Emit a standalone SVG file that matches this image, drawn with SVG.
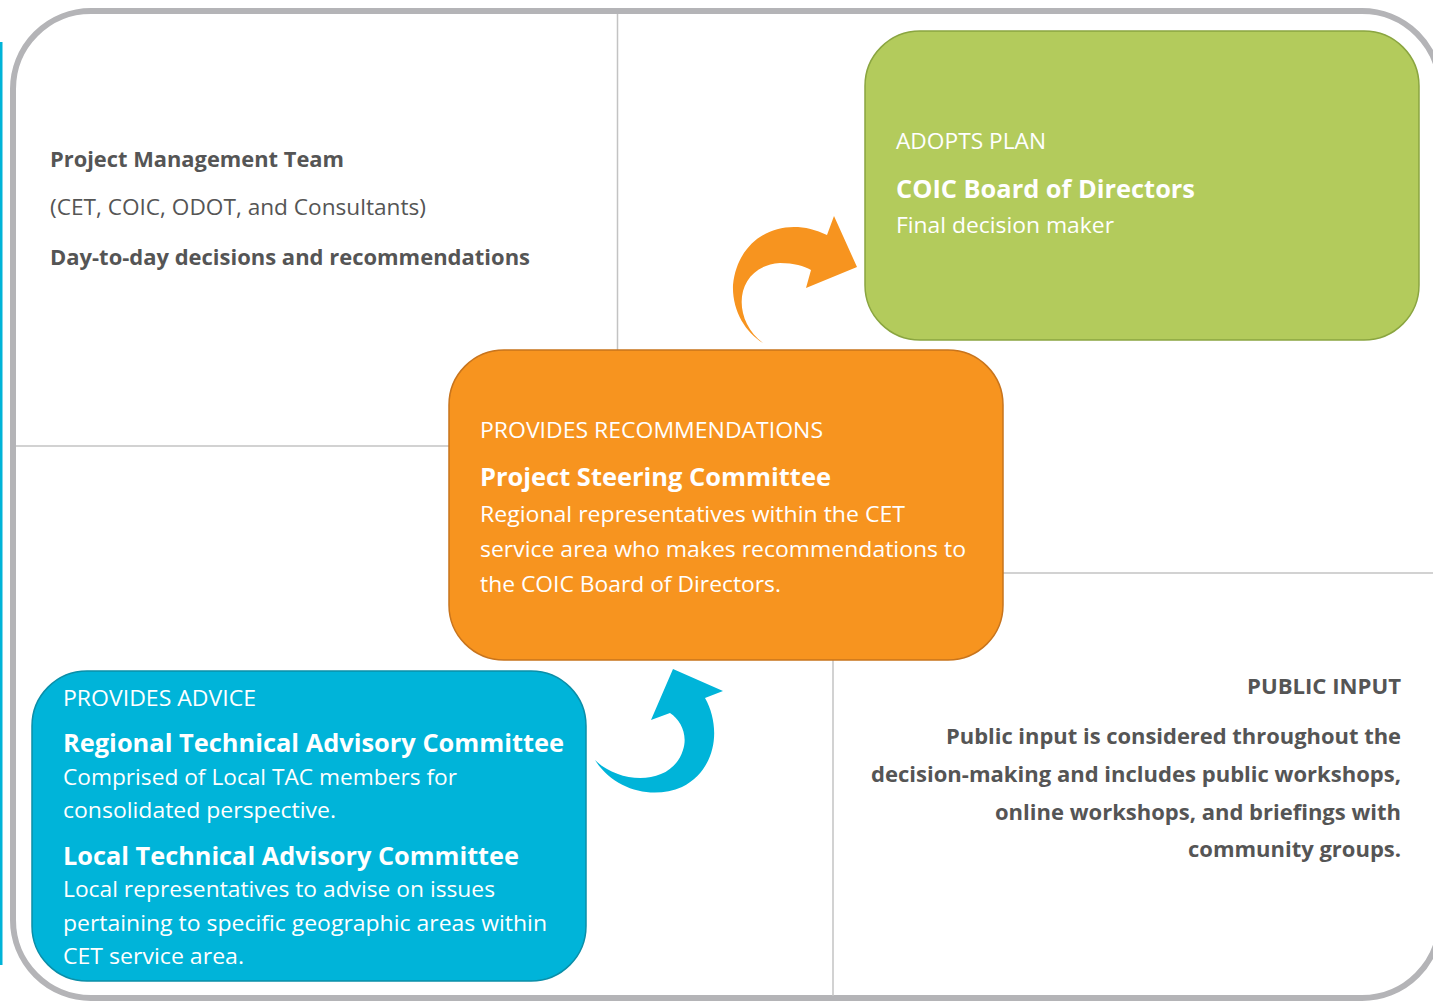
<svg xmlns="http://www.w3.org/2000/svg" width="1433" height="1003" viewBox="0 0 1433 1003">
<style>
.grid{stroke:#c3c3c3;stroke-width:1.5;fill:none}
.w{fill:#ffffff;font-family:"Open Sans","Liberation Sans",sans-serif;font-size:21px}
.wb{fill:#ffffff;font-family:"Open Sans","Liberation Sans",sans-serif;font-size:25px;font-weight:bold}
.d{fill:#555555;font-family:"Open Sans","Liberation Sans",sans-serif;font-size:21px}
.db{fill:#555555;font-family:"Open Sans","Liberation Sans",sans-serif;font-size:21px;font-weight:bold}
</style>
<rect width="1433" height="1003" fill="#ffffff"/>
<rect x="0" y="42" width="2.5" height="923" fill="#00b4d8"/>
<rect x="13" y="11" width="1427" height="987" rx="78" ry="78" fill="none" stroke="#b4b4b7" stroke-width="6"/>
<g id="grid">
<line class="grid" x1="617.5" y1="14" x2="617.5" y2="352"/>
<line class="grid" x1="16" y1="446" x2="452" y2="446"/>
<line class="grid" x1="1000" y1="573" x2="1433" y2="573"/>
<line class="grid" x1="833" y1="658" x2="833" y2="996"/>
</g>
<g id="pmt">
<text class="db" x="50" y="167" textLength="294" lengthAdjust="spacingAndGlyphs">Project Management Team</text>
<text class="d" x="50" y="215" textLength="376" lengthAdjust="spacingAndGlyphs">(CET, COIC, ODOT, and Consultants)</text>
<text class="db" x="50" y="265" textLength="480" lengthAdjust="spacingAndGlyphs">Day-to-day decisions and recommendations</text>
</g>
<g id="board">
<rect x="865" y="31" width="554" height="309" rx="55" ry="55" fill="#b3cb5c" stroke="#8aa540" stroke-width="1.5"/>
<text class="w" x="896" y="149" textLength="150" lengthAdjust="spacingAndGlyphs">ADOPTS PLAN</text>
<text class="wb" x="896" y="198" textLength="299" lengthAdjust="spacingAndGlyphs">COIC Board of Directors</text>
<text class="w" x="896" y="233" textLength="218" lengthAdjust="spacingAndGlyphs">Final decision maker</text>
</g>
<g id="psc">
<rect x="449" y="350" width="554" height="310" rx="55" ry="55" fill="#f7941f" stroke="#c8741c" stroke-width="1.5"/>
<text class="w" x="480" y="438" textLength="343" lengthAdjust="spacingAndGlyphs">PROVIDES RECOMMENDATIONS</text>
<text class="wb" x="480" y="486" textLength="351" lengthAdjust="spacingAndGlyphs">Project Steering Committee</text>
<text class="w" x="480" y="522" textLength="425" lengthAdjust="spacingAndGlyphs">Regional representatives within the CET</text>
<text class="w" x="480" y="557" textLength="486" lengthAdjust="spacingAndGlyphs">service area who makes recommendations to</text>
<text class="w" x="480" y="592" textLength="301" lengthAdjust="spacingAndGlyphs">the COIC Board of Directors.</text>
</g>
<g id="tac">
<rect x="32" y="671" width="554" height="310" rx="55" ry="55" fill="#00b4d9" stroke="#0a8ea8" stroke-width="1.5"/>
<text class="w" x="63" y="706" textLength="193" lengthAdjust="spacingAndGlyphs">PROVIDES ADVICE</text>
<text class="wb" x="63" y="752" textLength="501" lengthAdjust="spacingAndGlyphs">Regional Technical Advisory Committee</text>
<text class="w" x="63" y="785" textLength="394" lengthAdjust="spacingAndGlyphs">Comprised of Local TAC members for</text>
<text class="w" x="63" y="818" textLength="273" lengthAdjust="spacingAndGlyphs">consolidated perspective.</text>
<text class="wb" x="63" y="865" textLength="456" lengthAdjust="spacingAndGlyphs">Local Technical Advisory Committee</text>
<text class="w" x="63" y="897" textLength="432" lengthAdjust="spacingAndGlyphs">Local representatives to advise on issues</text>
<text class="w" x="63" y="931" textLength="484" lengthAdjust="spacingAndGlyphs">pertaining to specific geographic areas within</text>
<text class="w" x="63" y="964" textLength="181" lengthAdjust="spacingAndGlyphs">CET service area.</text>
</g>
<g id="public" text-anchor="end">
<text class="db" x="1401" y="694" textLength="154" lengthAdjust="spacingAndGlyphs">PUBLIC INPUT</text>
<text class="db" x="1401" y="744" textLength="455" lengthAdjust="spacingAndGlyphs">Public input is considered throughout the</text>
<text class="db" x="1401" y="782" textLength="530" lengthAdjust="spacingAndGlyphs">decision-making and includes public workshops,</text>
<text class="db" x="1401" y="820" textLength="406" lengthAdjust="spacingAndGlyphs">online workshops, and briefings with</text>
<text class="db" x="1401" y="857" textLength="213" lengthAdjust="spacingAndGlyphs">community groups.</text>
</g>
<g id="connectors">
<path d="M763 343 C730 318 735 266 780 263 C794 263 804 266 811 270 L806 288 L857 267 L834 216 L827 235 C785 214 738 235 733 285 C732 310 745 332 763 343 Z" fill="#f7941f"/>
<path d="M595 760 C620 785 672 786 683 750 C688 735 681 720 670 713 L651 720 L673 669 L723 691 L705 698 C722 728 716 770 682 787 C652 800 614 790 595 760 Z" fill="#00b4d9"/>
</g>
</svg>
